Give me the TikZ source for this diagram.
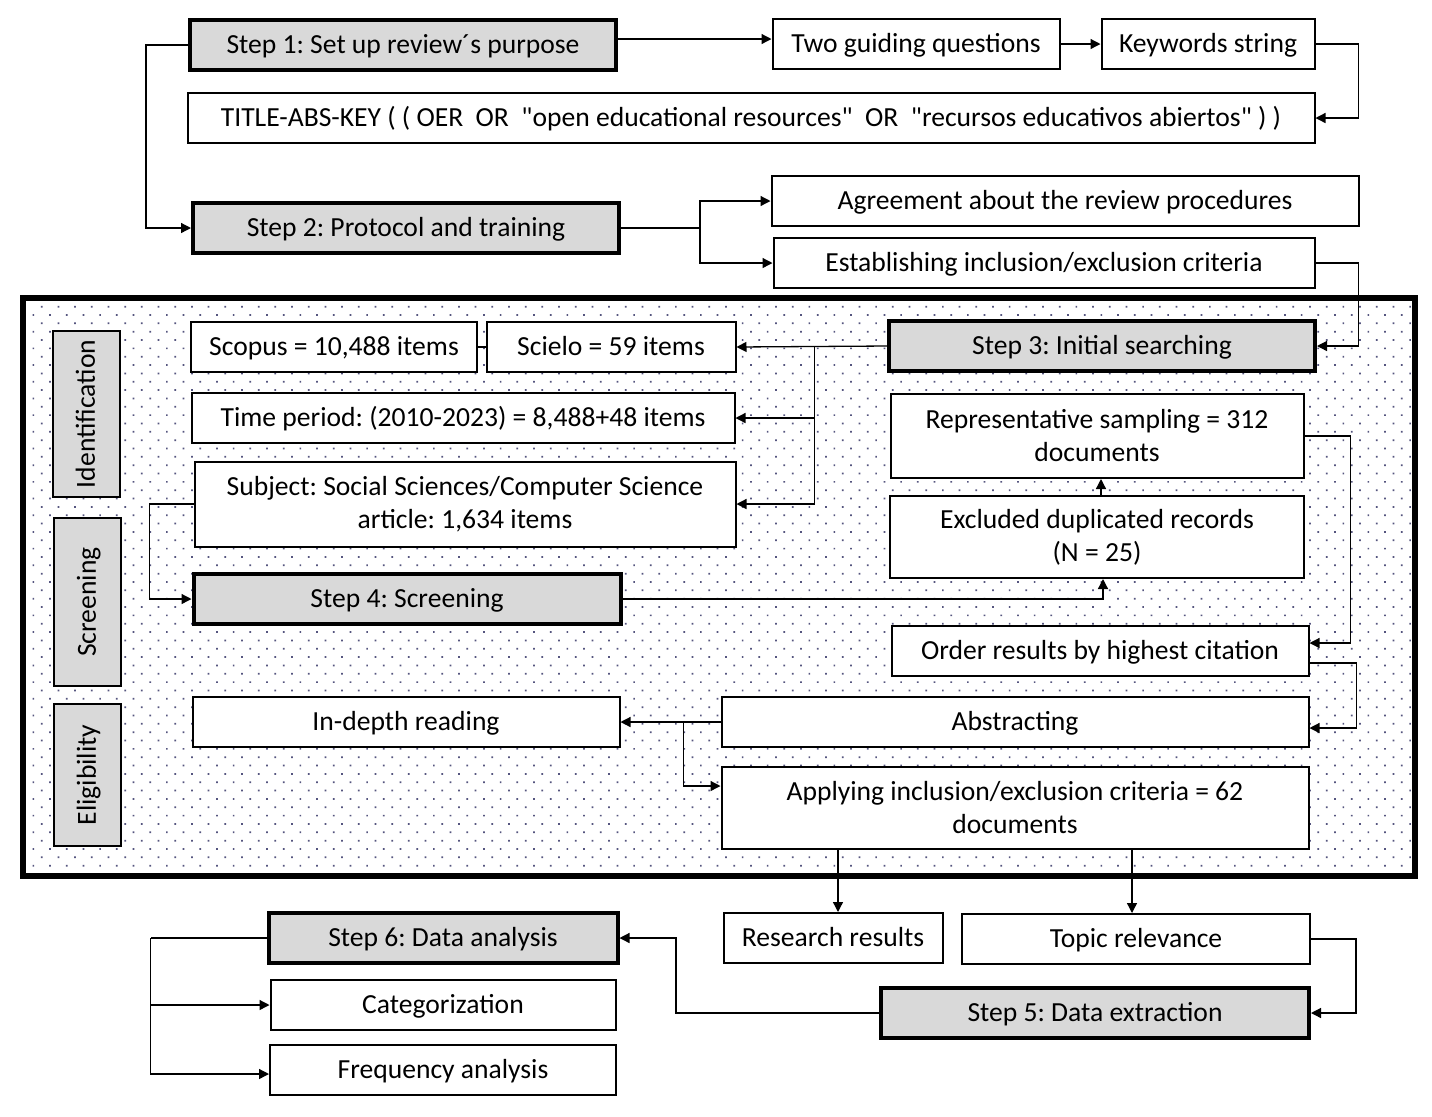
\documentclass[tikz,border=0pt]{standalone}
\usepackage{fontspec}
\setmainfont{Carlito}[Ligatures=TeXOff]
\usepackage{tikz}
\usetikzlibrary{arrows.meta, positioning, patterns.meta, calc}
\definecolor{colStepGray}{HTML}{D9D9D9}
\definecolor{colDots}{HTML}{55557F}
\newcommand{\boxstrut}{\rule[-0.3em]{0pt}{1.24em}}
\tikzset{
  boxbase/.style={
    draw, fill=white, line width=1pt,
    minimum height=25pt, align=center, inner sep=2pt
  },
  box/.style={boxbase,
    execute at begin node=\boxstrut, execute at end node=\boxstrut},
  twoline/.style={boxbase},
  stepbox/.style={box, fill=colStepGray, line width=2pt},
  phase/.style={
    draw, fill=colStepGray, line width=1pt, rotate=90,
    minimum height=33.5pt, inner sep=2pt,
    execute at begin node=\boxstrut, execute at end node=\boxstrut
  },
  arr/.style={-{Triangle[length=5pt,width=5pt]}, line width=0.65pt},
  link/.style={line width=0.65pt}
}
\frenchspacing
\begin{document}
\begin{tikzpicture}[x=0.5pt, y=-0.5pt, font=\fontsize{13.8}{16.5}\selectfont]
  \useasboundingbox (0,0) rectangle (1432,1116);
  % dotted frame around the search / screening / eligibility part
  \fill[white] (23,298) rectangle (1415,876);
  \fill[pattern={Dots[distance=5.9pt, angle=45, radius=0.6pt]}, pattern color=colDots]
    (23,298) rectangle (1415,876);
  \draw[line width=2.8pt] (23,298) rectangle (1415,876);

  % Step 1 and Step 2
  \node[stepbox, minimum width=213pt] (step1) at (403,45) {Step 1: Set up review´s purpose};
  \node[box, minimum width=143.5pt] (guiding) at (916,44) {Two guiding questions};
  \node[box, minimum width=106.5pt] (keys) at (1208,44) {Keywords string};
  \node[box, minimum width=563.5pt] (query) at (751,118)
    {TITLE-ABS-KEY ( ( OER\ \ OR\ \ "open educational resources"\ \ OR\ \ "recursos educativos abiertos" ) )};
  \node[stepbox, minimum width=213pt] (step2) at (406,228) {Step 2: Protocol and training};
  \node[box, minimum width=293.5pt] (agree) at (1065,201) {Agreement about the review procedures};
  \node[box, minimum width=270.5pt] (estab) at (1044,263) {Establishing inclusion/exclusion criteria};

  % phases
  \node[phase, minimum width=83pt] (ident) at (86,414) {Identification};
  \node[phase, minimum width=84pt] (screen) at (87,602) {Screening};
  \node[phase, minimum width=71pt] (elig) at (87,775) {Eligibility};

  % Step 3 and Step 4
  \node[box, minimum width=143pt] (scopus) at (334,347) {Scopus = 10,488 items};
  \node[box, minimum width=124.5pt] (scielo) at (611,347) {Scielo = 59 items};
  \node[stepbox, minimum width=213pt] (step3) at (1102,346) {Step 3: Initial searching};
  \node[box, minimum width=271.5pt] (period) at (463,418) {Time period: (2010-2023) = 8,488+48 items};
  \node[twoline, minimum width=270.5pt, minimum height=42.5pt] (subject) at (465,504)
    {Subject: Social Sciences/Computer Science\\article: 1,634 items};
  \node[twoline, minimum width=206.5pt, minimum height=42pt] (repr) at (1097,436)
    {Representative sampling = 312\\documents};
  \node[twoline, minimum width=207pt, minimum height=41pt] (excl) at (1097,537)
    {Excluded duplicated records\\(N = 25)};
  \node[stepbox, minimum width=213.5pt] (step4) at (407,599) {Step 4: Screening};
  \node[box, minimum width=208.5pt] (order) at (1100,651) {Order results by highest citation};
  \node[box, minimum width=293.5pt] (abstr) at (1015,722) {Abstracting};
  \node[box, minimum width=213.5pt] (indepth) at (406,722) {In-depth reading};
  \node[twoline, minimum width=293.5pt, minimum height=41pt] (apply) at (1015,808)
    {Applying inclusion/exclusion criteria = 62\\documents};

  % Step 5 and Step 6
  \node[box, minimum width=109.5pt] (research) at (833,938) {Research results};
  \node[box, minimum width=174pt] (topic) at (1136,939) {Topic relevance};
  \node[stepbox, minimum width=214pt] (step5) at (1095,1013) {Step 5: Data extraction};
  \node[stepbox, minimum width=174.5pt] (step6) at (443,938) {Step 6: Data analysis};
  \node[box, minimum width=172.5pt] (categ) at (443,1005) {Categorization};
  \node[box, minimum width=173pt] (freq) at (443,1070) {Frequency analysis};

  % connectors
  \draw[arr] ([yshift=3pt]step1.east) -- ([yshift=3pt]step1.east -| guiding.west);
  \draw[arr] (guiding) -- (keys);
  \draw[arr] (keys.east) -- ++(43,0) |- (query.east);
  \draw[arr] (step1.west) -- ++(-42,0) |- (step2.west);
  \draw[link] (step2.east) -- ++(79,0) coordinate (s2b);
  \draw[arr] (s2b) |- (agree.west);
  \draw[arr] (s2b) |- (estab.west);
  \draw[arr] (estab.east) -- ++(43,0) |- (step3.east);

  \draw[link] (scopus) -- (scielo);
  \draw[arr] (step3.west) -- (scielo.east) coordinate[pos=0.48] (s3b);
  \draw[arr] (s3b) |- (period.east);
  \draw[arr] (s3b) |- (subject.east);
  \draw[arr] (subject.west) -- ++(-44,0) |- (step4.west);
  \draw[arr] (step4.east) -| ([xshift=3pt]excl.south);
  \draw[arr] ([xshift=2pt]excl.north) -- ([xshift=2pt]repr.south);
  \draw[arr] (repr.east) -- ++(46,0) |- ([yshift=4pt]order.east);
  \draw[arr] ([yshift=-6pt]order.east) -- ++(47,0) |- ([yshift=-3pt]abstr.east);
  \draw[arr] (abstr.west) -- (indepth.east) coordinate[pos=0.37] (ab);
  \draw[arr] (ab) |- ([yshift=11pt]apply.west);
  \draw[arr] ([xshift=2.5pt]research.north |- apply.south) -- ([xshift=2.5pt]research.north);
  \draw[arr] ([xshift=-2pt]topic.north |- apply.south) -- ([xshift=-2pt]topic.north);

  \draw[arr] (topic.east) -- ++(45,0) |- (step5.east);
  \draw[arr] (step5.west) -- ++(-203,0) |- (step6.east);
  \draw[link] (step6.west) -- ++(-116,0) coordinate (s6b);
  \draw[arr] (s6b) |- (categ.west);
  \draw[arr] (s6b) |- ([yshift=-2pt]freq.west);
\end{tikzpicture}
\end{document}
